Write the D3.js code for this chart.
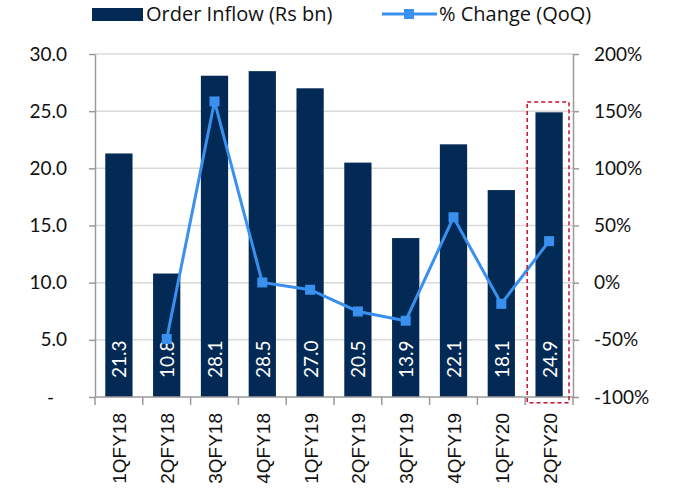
<!DOCTYPE html>
<html>
<head>
<meta charset="utf-8">
<style>
  body { margin: 0; background: #fff; }
  svg { display: block; }
</style>
</head>
<body>
<div class="container"></div>
<script src="https://d3js.org/d3.v7.min.js"></script>
<script>
  // chart data
  var categories = ['1QFY18', '2QFY18', '3QFY18', '4QFY18', '1QFY19', '2QFY19', '3QFY19', '4QFY19', '1QFY20', '2QFY20'];
  var orderInflow = [21.3, 10.8, 28.1, 28.5, 27.0, 20.5, 13.9, 22.1, 18.1, 24.9];
  var qoqChange = [null, -49.3, 158.5, 0.2, -6.2, -25.2, -33.3, 57.2, -18.5, 36.3];
  var leftTicks = [0, 5, 10, 15, 20, 25, 30];
  var rightTicks = [-100, -50, 0, 50, 100, 150, 200];
  var highlighted = '2QFY20';

  var W = 673, H = 491,
      plotLeft = 95, plotRight = 573, plotTop = 54, plotBottom = 397;
  var barColor = '#022a54', lineColor = '#3a90ef', axisColor = '#9a9a9a', gridColor = '#d9d9d9';
  var numFont = 'Lato, "Open Sans", sans-serif';

  var svg = d3.select('.container').append('svg')
      .attr('width', W).attr('height', H);

  var x = d3.scaleBand().domain(categories).range([plotLeft, plotRight])
      .paddingInner(0.43).paddingOuter(0.215);
  var yL = d3.scaleLinear().domain([0, 30]).range([plotBottom, plotTop]);
  var yR = d3.scaleLinear().domain([-100, 200]).range([plotBottom, plotTop]);

  // gridlines
  svg.append('g').selectAll('line')
      .data(leftTicks.filter(function(d) { return d > 0; }))
      .join('line')
      .attr('x1', plotLeft).attr('x2', plotRight)
      .attr('y1', function(d) { return yL(d); })
      .attr('y2', function(d) { return yL(d); })
      .attr('stroke', gridColor).attr('stroke-width', 1.5);

  // bars
  svg.append('g').selectAll('rect')
      .data(orderInflow)
      .join('rect')
      .attr('x', function(d, i) { return x(categories[i]); })
      .attr('width', x.bandwidth())
      .attr('y', function(d) { return yL(d); })
      .attr('height', function(d) { return yL(0) - yL(d); })
      .attr('fill', barColor);

  // bar labels
  svg.append('g').selectAll('text')
      .data(orderInflow)
      .join('text')
      .attr('transform', function(d, i) {
        return 'translate(' + (x(categories[i]) + x.bandwidth() / 2 + 7.5) + ',' + (plotBottom - 19) + ') rotate(-90)';
      })
      .attr('fill', '#fff')
      .style('font-family', numFont)
      .style('font-size', '19px')
      .text(function(d) { return d.toFixed(1); });

  // left axis
  var axL = svg.append('g')
      .attr('transform', 'translate(' + plotLeft + ',0)')
      .call(d3.axisLeft(yL).tickValues(leftTicks).tickSize(6).tickSizeOuter(0).tickPadding(22)
        .tickFormat(function(d) { return d === 0 ? '-' : d3.format('.1f')(d); }));
  axL.selectAll('text')
      .style('font-family', numFont).style('font-size', '19px').attr('fill', '#111')
      .attr('dx', function(d) { return d === 0 ? -13 : 0; });

  // right axis
  var axR = svg.append('g')
      .attr('transform', 'translate(' + plotRight + ',0)')
      .call(d3.axisRight(yR).tickValues(rightTicks).tickSize(6).tickSizeOuter(0).tickPadding(15)
        .tickFormat(function(d) { return d + '%'; }));
  axR.selectAll('text')
      .style('font-family', numFont).style('font-size', '19px').attr('fill', '#111');

  // x axis
  var step = x.step(), half = step * x.paddingInner() / 2;
  var bounds = categories.map(function(c) { return x(c) - half; }).concat([plotRight]);
  var axX = svg.append('g');
  axX.append('line')
      .attr('x1', plotLeft).attr('x2', plotRight)
      .attr('y1', plotBottom).attr('y2', plotBottom);
  axX.selectAll('line.tick')
      .data(bounds)
      .join('line')
      .attr('class', 'tick')
      .attr('x1', function(d) { return d; }).attr('x2', function(d) { return d; })
      .attr('y1', plotBottom).attr('y2', plotBottom + 8);
  axX.selectAll('text')
      .data(categories)
      .join('text')
      .attr('transform', function(c) {
        return 'translate(' + (x(c) + x.bandwidth() / 2 + 7.5) + ',' + (plotBottom + 16) + ') rotate(-90)';
      })
      .attr('text-anchor', 'end')
      .attr('fill', '#111')
      .style('font-family', '"Liberation Sans", Arial, sans-serif')
      .style('font-size', '19px')
      .text(function(c) { return c; });

  svg.selectAll('.domain, .tick line, g line').attr('stroke', axisColor).attr('stroke-width', 1.5);
  svg.select('g').selectAll('line').attr('stroke', gridColor);

  // QoQ line
  var pts = qoqChange.map(function(v, i) { return { c: categories[i], v: v }; })
      .filter(function(p) { return p.v !== null; });
  var line = d3.line()
      .x(function(p) { return x(p.c) + x.bandwidth() / 2; })
      .y(function(p) { return yR(p.v); });
  svg.append('path')
      .datum(pts)
      .attr('d', line)
      .attr('fill', 'none')
      .attr('stroke', lineColor)
      .attr('stroke-width', 3);
  svg.append('g').selectAll('rect')
      .data(pts)
      .join('rect')
      .attr('x', function(p) { return x(p.c) + x.bandwidth() / 2 - 5; })
      .attr('y', function(p) { return yR(p.v) - 5; })
      .attr('width', 10).attr('height', 10)
      .attr('fill', lineColor);

  // highlight box
  svg.append('rect')
      .attr('x', x(highlighted) - half + 2)
      .attr('y', yL(25.8))
      .attr('width', step - 6)
      .attr('height', yL(-0.5) - yL(25.8))
      .attr('fill', 'none')
      .attr('stroke', '#c8102e')
      .attr('stroke-width', 1.5)
      .attr('stroke-dasharray', '4,3');

  // legend
  var lg = svg.append('g').style('font-family', '"Open Sans", Lato, sans-serif').style('font-size', '20px');
  lg.append('rect').attr('x', 92).attr('y', 8).attr('width', 51).attr('height', 13).attr('fill', barColor);
  lg.append('text').attr('x', 146).attr('y', 21).attr('fill', '#111').text('Order Inflow (Rs bn)');
  lg.append('line').attr('x1', 382).attr('x2', 437).attr('y1', 14).attr('y2', 14)
      .attr('stroke', lineColor).attr('stroke-width', 3);
  lg.append('rect').attr('x', 404).attr('y', 9).attr('width', 10).attr('height', 10).attr('fill', lineColor);
  lg.append('text').attr('x', 439).attr('y', 21).attr('fill', '#111').text('% Change (QoQ)');
</script>
</body>
</html>
